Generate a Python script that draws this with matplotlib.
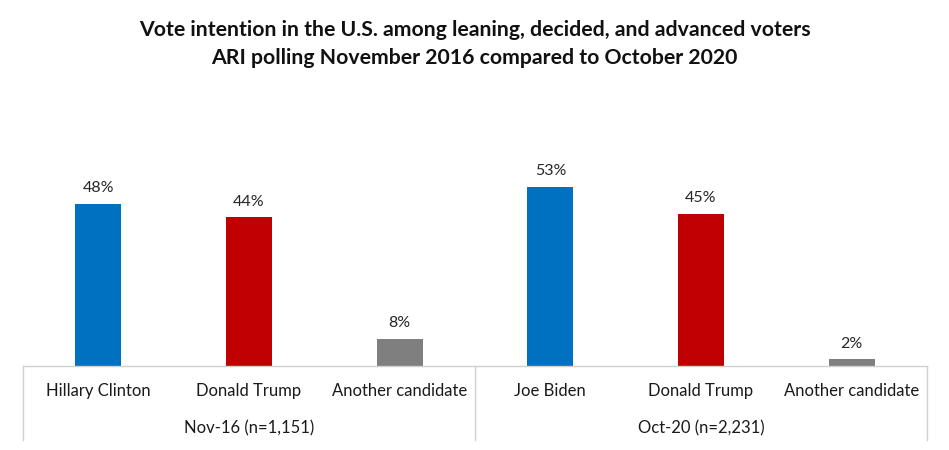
import numpy as np
import matplotlib.pyplot as plt
from matplotlib.lines import Line2D

candidates = ['Hillary Clinton', 'Donald Trump', 'Another candidate',
              'Joe Biden', 'Donald Trump', 'Another candidate']
values = [48, 44, 8, 53, 45, 2]
groups = ['Nov-16 (n=1,151)', 'Oct-20 (n=2,231)']
colors = ['#0070C0', '#C00000', '#7F7F7F', '#0070C0', '#C00000', '#7F7F7F']

plt.rcParams['font.family'] = ['Lato', 'DejaVu Sans']

fig = plt.figure(figsize=(9.49, 4.5), dpi=100)
ax = fig.add_axes([23 / 949, 84 / 450, 904 / 949, 203 / 450])

x = np.arange(len(values))
ax.bar(x, values, width=0.305, color=colors)
ax.set_xlim(-0.5, len(values) - 0.5)
ax.set_ylim(0, 60)

for xi, v in zip(x, values):
    ax.text(xi, v + 2.5, f'{v}%', ha='center', va='bottom', fontsize=11.5, color='#262626')

for s in ax.spines.values():
    s.set_visible(False)
ax.set_xticks([])
ax.set_yticks([])

gc = '#D0D0D0'
ax.add_line(Line2D([0, 1], [0, 0], transform=ax.transAxes, color=gc, lw=1, clip_on=False))
for xa in [0, 0.5, 1]:
    ax.add_line(Line2D([xa, xa], [0, -0.365], transform=ax.transAxes, color=gc, lw=1, clip_on=False))

for xi, name in zip(x, candidates):
    ax.text(xi, -0.123, name, transform=ax.get_xaxis_transform(), ha='center', va='center',
            fontsize=12, color='#1a1a1a')
for i, g in enumerate(groups):
    ax.text(0.25 + 0.5 * i, -0.305, g, transform=ax.transAxes, ha='center', va='center',
            fontsize=12, color='#1a1a1a')

fig.text(0.5, 1 - 30 / 450, 'Vote intention in the U.S. among leaning, decided, and advanced voters',
         ha='center', va='center', fontsize=15.3, fontweight='bold', color='#111111')
fig.text(0.5, 1 - 58 / 450, 'ARI polling November 2016 compared to October 2020',
         ha='center', va='center', fontsize=15.3, fontweight='bold', color='#111111')

fig.savefig('out.png', dpi=100)
